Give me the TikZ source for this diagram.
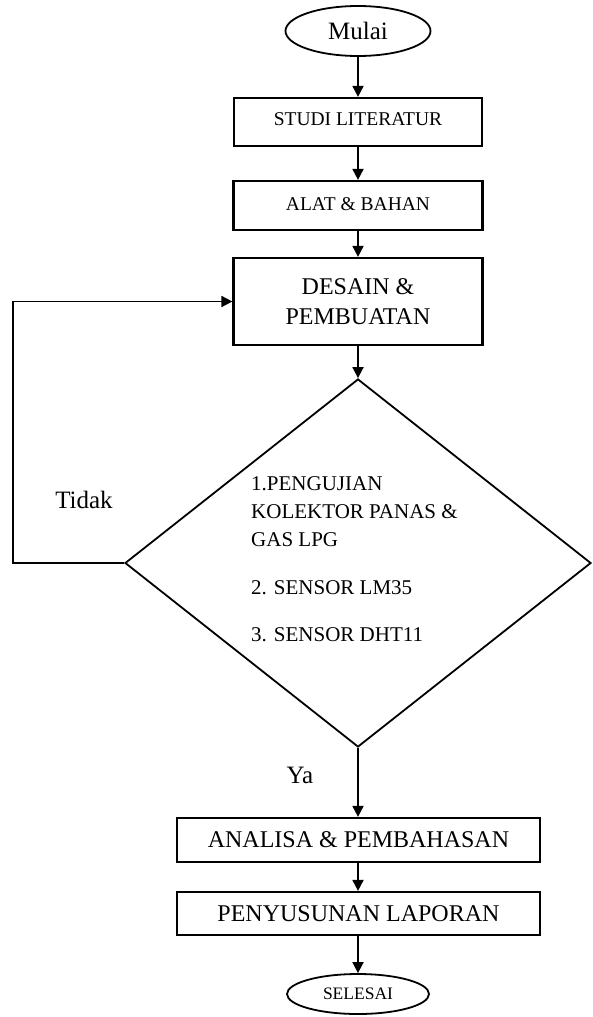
\documentclass[tikz,border=0pt]{standalone}
\usepackage{fontspec}
\setmainfont{Liberation Serif}
\usetikzlibrary{shapes.geometric,arrows.meta}

\begin{document}
\begin{tikzpicture}[x=1pt, y=-1pt,
    box/.style={draw, line width=2.2pt, inner sep=0pt, align=center},
    term/.style={draw, ellipse, line width=1.8pt, inner sep=0pt},
    arr/.style={line width=1.8pt, -{Triangle[width=11pt,length=11pt]}},
    lbl/.style={inner sep=0pt, font=\fontsize{25}{28}\selectfont}]
    \useasboundingbox (0,0) rectangle (592,1017);

    \node[term, minimum width=145, minimum height=50,
        font=\fontsize{25}{28}\selectfont] (mulai) at (358,31) {Mulai};
    \node[box, minimum width=248, minimum height=48,
        font=\fontsize{19.5}{22}\selectfont] (studi) at (358,122)
        {\raisebox{5pt}{STUDI LITERATUR}};
    \node[box, minimum width=249, minimum height=49,
        font=\fontsize{19.5}{22}\selectfont] (alat) at (358,205.5)
        {\raisebox{3pt}{ALAT \& BAHAN}};
    \node[box, minimum width=249, minimum height=87,
        font=\fontsize{24}{30}\selectfont] (desain) at (358,301.5)
        {DESAIN \&\\PEMBUATAN};
    \node[draw, diamond, line width=1.8pt, inner sep=0pt,
        minimum width=466, minimum height=368] (uji) at (358,563) {};
    \node[anchor=north west, inner sep=0pt, align=left,
        font=\fontsize{21}{28}\selectfont] (ujitext) at (251,476)
        {1.PENGUJIAN\\KOLEKTOR PANAS \&\\GAS LPG\\[20pt]2. SENSOR LM35\\[19pt]3. SENSOR DHT11};
    \node[box, minimum width=363, minimum height=44,
        font=\fontsize{24}{28}\selectfont] (analisa) at (358.5,840)
        {ANALISA \& PEMBAHASAN};
    \node[box, minimum width=363, minimum height=43,
        font=\fontsize{24}{28}\selectfont] (laporan) at (358.5,913.5)
        {PENYUSUNAN LAPORAN};
    \node[term, minimum width=142, minimum height=40,
        font=\fontsize{17.5}{20}\selectfont] (selesai) at (358,994) {SELESAI};

    % labels
    \node[lbl] (tidak) at (84,500) {Tidak};
    \node[lbl] (ya) at (300,775) {Ya};

    \draw[arr] (mulai) -- (studi);
    \draw[arr] (studi) -- (alat);
    \draw[arr] (alat) -- (desain);
    \draw[arr] (desain) -- (uji);
    \draw[arr] (uji.south) -- (analisa.north -| uji.south);
    \draw[arr] (analisa.south -| uji.south) -- (laporan.north -| uji.south);
    \draw[arr] (laporan.south -| uji.south) -- (selesai);
    \draw[arr] (uji.west) -- ++(-111,0) |- (desain.west);

    \end{tikzpicture}
\end{document}
